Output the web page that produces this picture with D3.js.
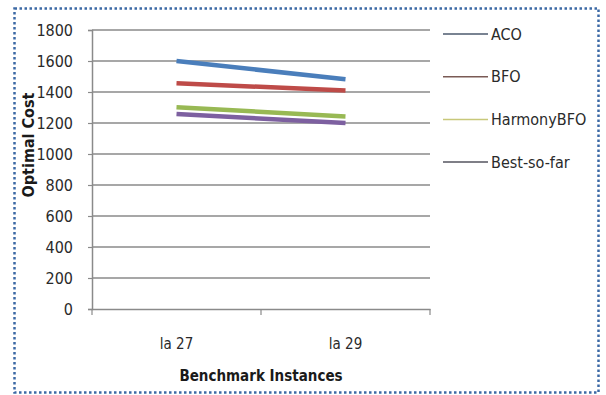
<!DOCTYPE html>
<html>
<head>
<meta charset="utf-8">
<script src="https://cdn.jsdelivr.net/npm/d3@7"></script>
<style>
  body { margin: 0; background: #fff; }
  svg text { font-family: "DejaVu Sans Condensed", "Liberation Sans Narrow", sans-serif; }
</style>
</head>
<body>
<div id="chart"></div>
<script>
// data
var instances = ["la 27", "la 29"];
var seriesNames = ["ACO", "BFO", "HarmonyBFO", "Best-so-far"];
var aco = [1600, 1482];
var bfo = [1456, 1410];
var harmonyBfo = [1302, 1242];
var bestSoFar = [1258, 1200];
var yTicks = [0, 200, 400, 600, 800, 1000, 1200, 1400, 1600, 1800];

var lineColors = ["#4a7ebb", "#be4b48", "#98b954", "#7d60a0"];
var legendColors = ["#4c5a6e", "#7a5a55", "#c8c87a", "#55555f"];

var W = 606, H = 395;
var margin = {top: 30, right: 176, bottom: 86, left: 92};
var width = W - margin.left - margin.right;
var height = H - margin.top - margin.bottom;

var svg = d3.select("#chart").append("svg")
	.attr("width", W)
	.attr("height", H);

// dotted frame
svg.append("rect")
	.attr("x", 14.5).attr("y", 8.5)
	.attr("width", 584).attr("height", 384)
	.attr("fill", "none")
	.attr("stroke", "#3c69a5")
	.attr("stroke-width", 2.5)
	.attr("stroke-dasharray", "2.5,2.5");

var g = svg.append("g").attr("transform", "translate(" + margin.left + "," + margin.top + ")");

var x = d3.scaleBand().domain(instances).range([0, width]);
var y = d3.scaleLinear().domain([0, 1800]).range([height, 0]);

// grid lines
g.append("g")
	.selectAll("line")
	.data(yTicks.slice(1))
	.enter().append("line")
	  .attr("x1", 0).attr("x2", width)
	  .attr("y1", function(d) { return y(d); })
	  .attr("y2", function(d) { return y(d); })
	  .attr("stroke", "#8a8a8a")
	  .attr("stroke-width", 1.5);

var yAxis = g.append("g")
	.call(d3.axisLeft(y).tickValues(yTicks).tickSize(4).tickPadding(15).tickFormat(d3.format("d")));
yAxis.select(".domain").attr("stroke", "#8a8a8a").attr("stroke-width", 1.5);
yAxis.selectAll(".tick line").attr("stroke", "#8a8a8a").attr("stroke-width", 1.2);
yAxis.selectAll("text").attr("fill", "#2a2a2a").style("font-size", "16px");

var xAxis = g.append("g")
	.attr("transform", "translate(0," + height + ")")
	.call(d3.axisBottom(x).tickSize(0).tickPadding(29));
xAxis.select(".domain").attr("stroke", "#8a8a8a").attr("stroke-width", 1.5);
xAxis.selectAll("text").attr("fill", "#2a2a2a").style("font-size", "15px");

// category boundary ticks
g.append("g")
	.selectAll("line")
	.data([0, width / 2, width])
	.enter().append("line")
	  .attr("x1", function(d) { return d; })
	  .attr("x2", function(d) { return d; })
	  .attr("y1", height).attr("y2", height + 6)
	  .attr("stroke", "#8a8a8a")
	  .attr("stroke-width", 1.2);

// axis titles
g.append("text")
	.attr("transform", "rotate(-90)")
	.attr("x", -115)
	.attr("y", -58)
	.attr("text-anchor", "middle")
	.attr("fill", "#1a1a1a")
	.style("font-size", "16px")
	.style("font-weight", "bold")
	.text("Optimal Cost");

g.append("text")
	.attr("x", width / 2)
	.attr("y", height + 72)
	.attr("text-anchor", "middle")
	.attr("fill", "#1a1a1a")
	.style("font-size", "15px")
	.style("font-weight", "bold")
	.text("Benchmark Instances");

// series
var seriesData = [aco, bfo, harmonyBfo, bestSoFar].map(function(vals, i) {
	return {
		id: seriesNames[i],
		values: vals.map(function(v, j) { return {inst: instances[j], value: v}; })
	};
});

var line = d3.line()
	.x(function(d) { return x(d.inst) + x.bandwidth() / 2; })
	.y(function(d) { return y(d.value); });

g.selectAll(".series")
	.data(seriesData)
	.enter().append("path")
	  .attr("class", "series")
	  .attr("d", function(d) { return line(d.values); })
	  .attr("fill", "none")
	  .attr("stroke", function(d, i) { return lineColors[i]; })
	  .attr("stroke-width", 4.5);

// legend
var legend = svg.append("g").attr("transform", "translate(443,34)");
var item = legend.selectAll(".item")
	.data(seriesNames)
	.enter().append("g")
	  .attr("class", "item")
	  .attr("transform", function(d, i) { return "translate(0," + (i * 42.7) + ")"; });

item.append("line")
	.attr("x1", 0).attr("x2", 45)
	.attr("stroke", function(d, i) { return legendColors[i]; })
	.attr("stroke-width", 1.5);

item.append("text")
	.attr("x", 48)
	.attr("dy", "0.35em")
	.attr("fill", "#2a2a2a")
	.style("font-size", "16px")
	.text(function(d) { return d; });
</script>
</body>
</html>
